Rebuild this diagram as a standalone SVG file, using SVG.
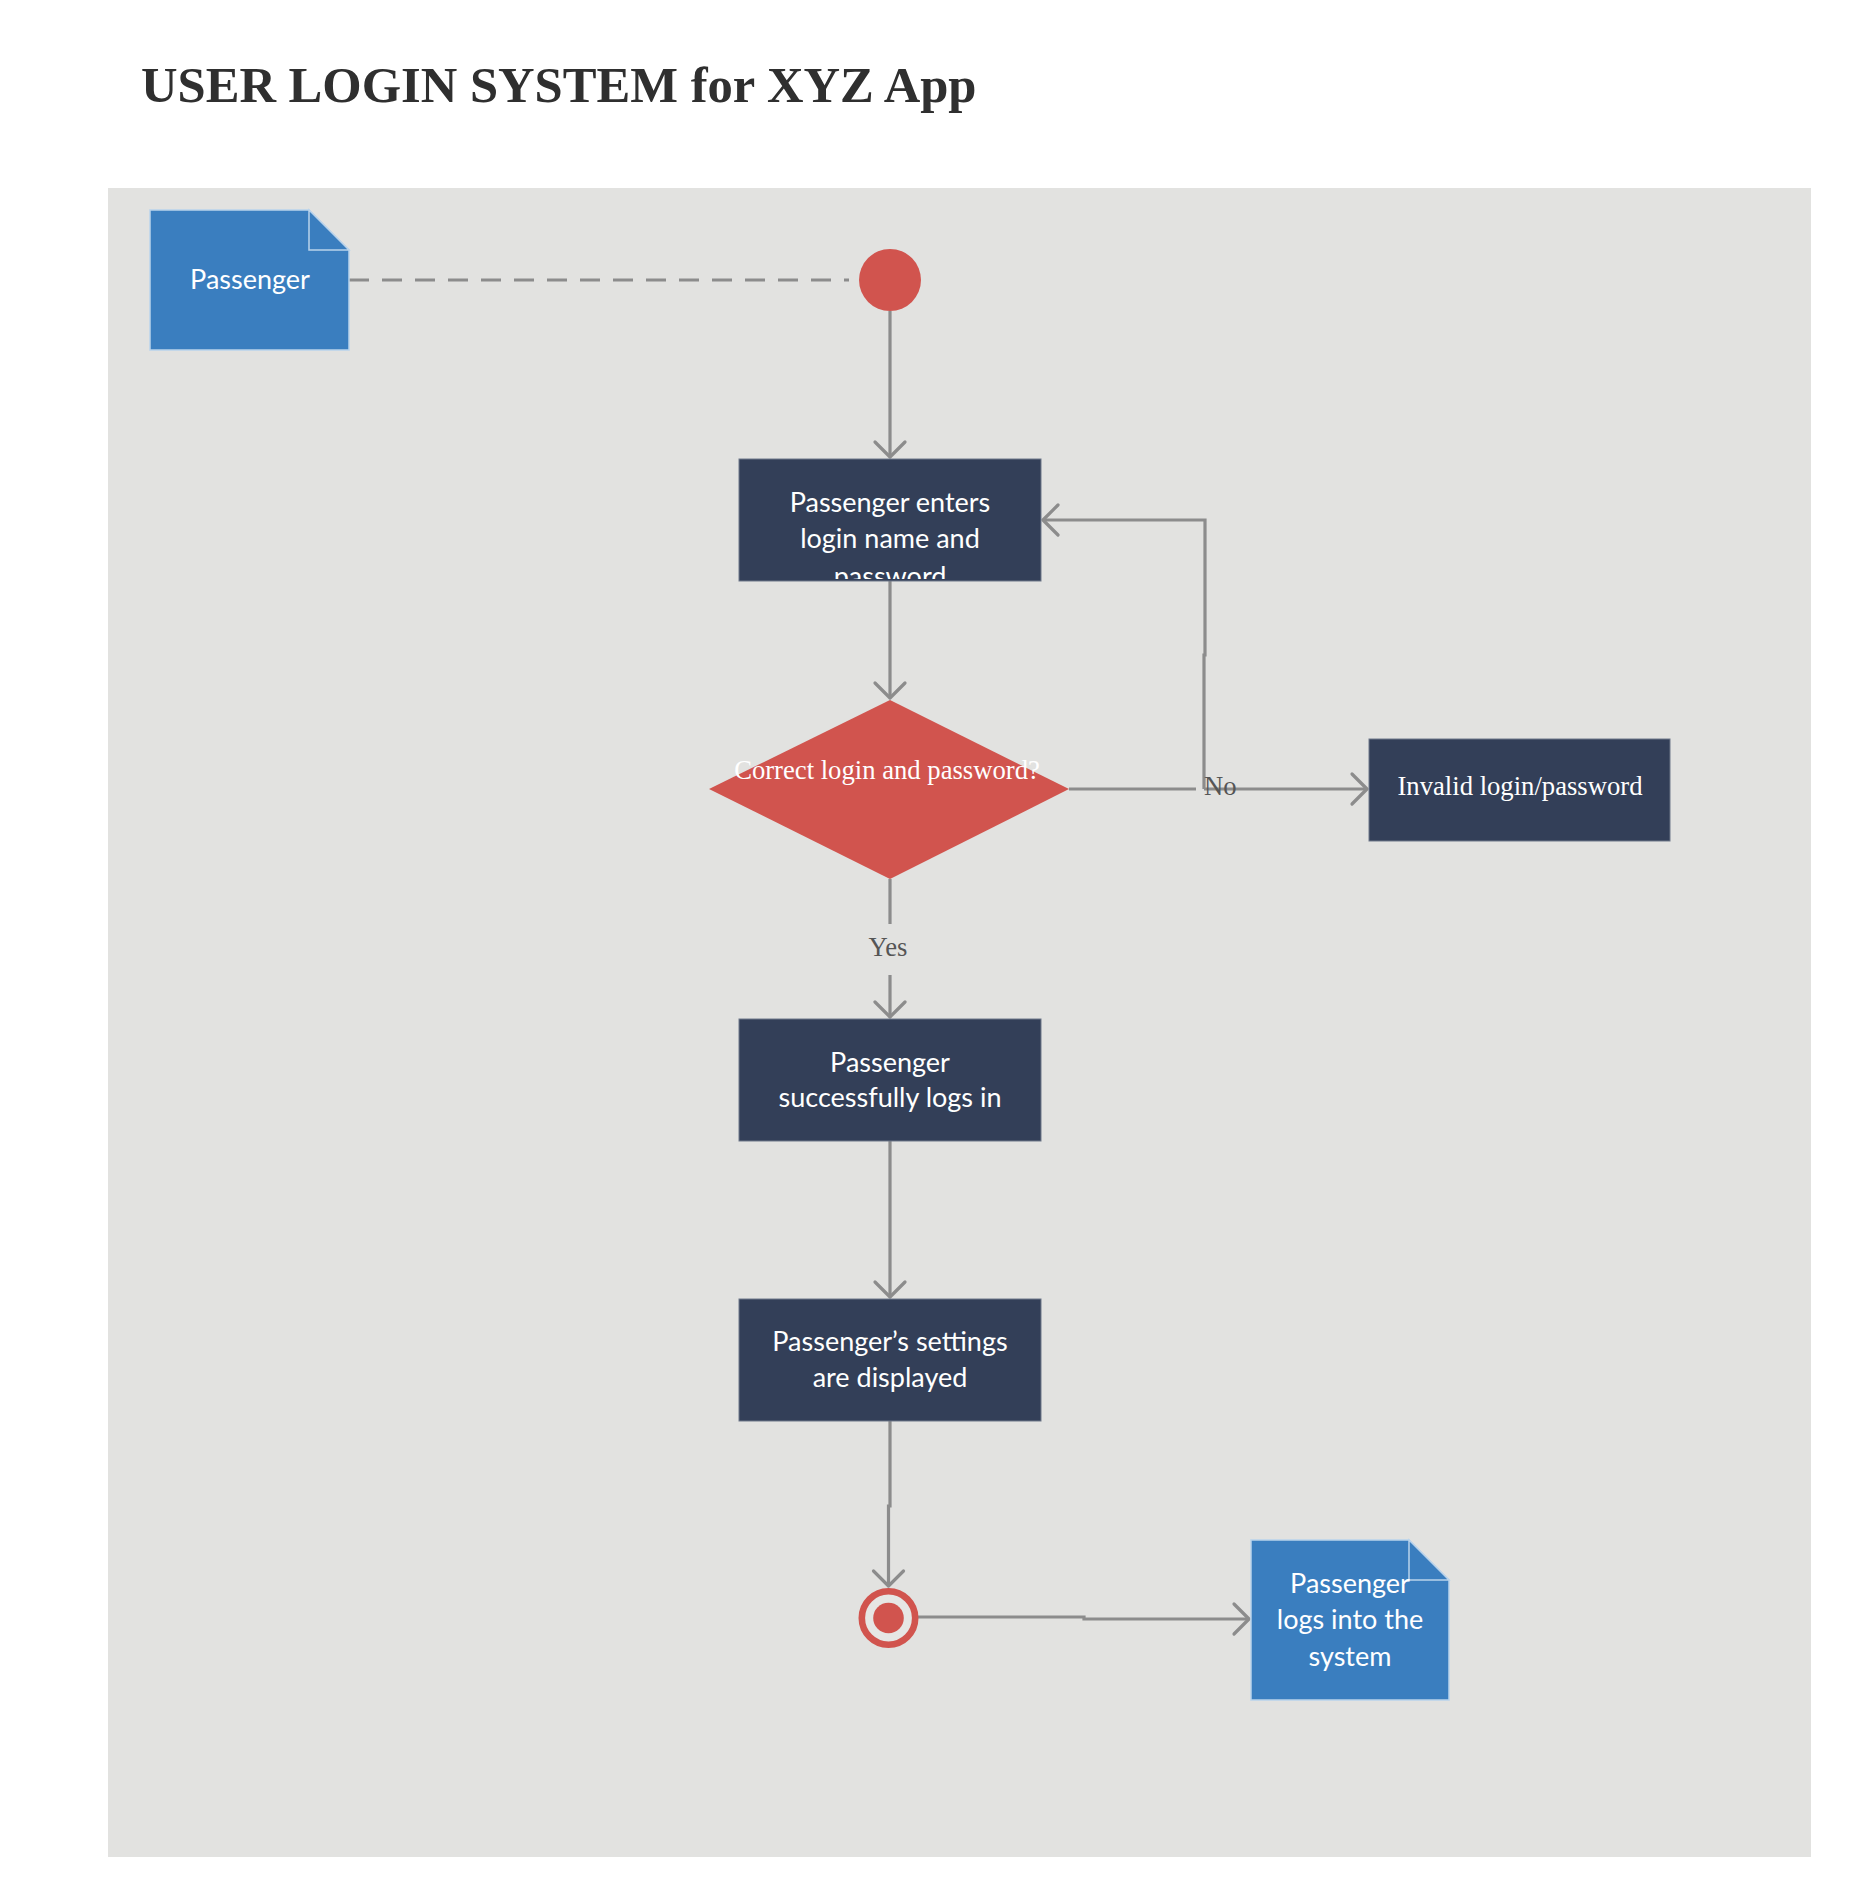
<svg xmlns="http://www.w3.org/2000/svg" width="1851" height="1896" viewBox="0 0 1851 1896">
  <style>
    .title { font-family: "Liberation Serif", "Times New Roman", serif; font-weight: bold; font-size: 50.6px; fill: #2f2f2f; }
    .proc { fill: #333f58; stroke: #6f7889; stroke-width: 1; }
    .note { fill: #3a7ebf; stroke: #b9d3ec; stroke-width: 1.5; }
    .fold { fill: #3a7ebf; stroke: #b9d3ec; stroke-width: 1.5; }
    .lato { font-family: Lato, "Open Sans", sans-serif; font-size: 27px; fill: #ffffff; text-anchor: middle; }
    .serifw { font-family: "Liberation Serif", "Times New Roman", serif; font-size: 26.67px; fill: #ffffff; text-anchor: middle; }
    .lbl { font-family: "Liberation Serif", "Times New Roman", serif; font-size: 26.67px; fill: #555555; }
    .conn { fill: none; stroke: #8c8c8c; stroke-width: 3.2; }
    .dash { stroke-dasharray: 20 13; }
  </style>
  <defs>
    <marker id="arrow" markerUnits="userSpaceOnUse" markerWidth="24" markerHeight="36" viewBox="0 0 24 36" refX="18" refY="18" orient="auto">
      <path d="M3,3 L18,18 L3,33" fill="none" stroke="#8c8c8c" stroke-width="3.2" stroke-linecap="round" stroke-linejoin="round"/>
    </marker>
    <clipPath id="clip1"><rect x="739" y="459" width="302" height="120"/></clipPath>
  </defs>

  <rect x="0" y="0" width="1851" height="1896" fill="#ffffff"/>
  <text class="title" x="141" y="102">USER LOGIN SYSTEM for XYZ App</text>
  <rect id="panel" x="108" y="188" width="1703" height="1669" fill="#e2e2e0"/>

  <g id="connectors">
    <path class="conn dash" d="M349,280 H849"/>
    <path class="conn" d="M890,311 V457" marker-end="url(#arrow)"/>
    <path class="conn" d="M890,581 V698" marker-end="url(#arrow)"/>
    <path class="conn" d="M1069,789 H1196"/>
    <path class="conn" d="M1204,789 H1367" marker-end="url(#arrow)"/>
    <path class="conn" d="M1204,789 V655 H1205 V520 H1043" marker-end="url(#arrow)"/>
    <path class="conn" d="M890,879 V924"/>
    <path class="conn" d="M890,975 V1017" marker-end="url(#arrow)"/>
    <path class="conn" d="M890,1141 V1297" marker-end="url(#arrow)"/>
    <path class="conn" d="M890,1421 V1506 H888.5 V1586" marker-end="url(#arrow)"/>
    <path class="conn" d="M918,1617 H1084 V1619 H1249" marker-end="url(#arrow)"/>
    <text class="lbl" x="1204" y="795">No</text>
    <text class="lbl" x="888" y="956" text-anchor="middle">Yes</text>
  </g>

  <g id="note-passenger">
    <path class="note" d="M150,210 H309 L349,250 V350 H150 Z"/>
    <path class="fold" d="M309,210 V250 H349 Z"/>
    <text class="lato" x="250" y="289">Passenger</text>
  </g>

  <g id="start">
    <circle cx="890" cy="280" r="31" fill="#d1544e"/>
  </g>

  <g id="enter-login">
    <rect class="proc" x="739" y="459" width="302" height="122"/>
    <g clip-path="url(#clip1)">
      <text class="lato" x="890" y="512">Passenger enters</text>
      <text class="lato" x="890" y="548">login name and</text>
      <text class="lato" x="890" y="586">password</text>
    </g>
  </g>

  <g id="decision">
    <polygon points="890,700 1069,789 890,879 709,789" fill="#d1544e"/>
    <text class="serifw" x="887" y="779">Correct login and password?</text>
  </g>

  <g id="invalid">
    <rect class="proc" x="1369" y="739" width="301" height="102"/>
    <text class="serifw" x="1520" y="795">Invalid login/password</text>
  </g>

  <g id="logs-in">
    <rect class="proc" x="739" y="1019" width="302" height="122"/>
    <text class="lato" x="890" y="1072">Passenger</text>
    <text class="lato" x="890" y="1107">successfully logs in</text>
  </g>

  <g id="settings">
    <rect class="proc" x="739" y="1299" width="302" height="122"/>
    <text class="lato" x="890" y="1351">Passenger’s settings</text>
    <text class="lato" x="890" y="1387">are displayed</text>
  </g>

  <g id="end">
    <circle cx="888.5" cy="1618" r="26.7" fill="#e6e6e4" stroke="#d1544e" stroke-width="6.6"/>
    <circle cx="888.5" cy="1618" r="15.3" fill="#d1544e"/>
  </g>

  <g id="note-result">
    <path class="note" d="M1251,1540 H1409 L1449,1580 V1700 H1251 Z"/>
    <path class="fold" d="M1409,1540 V1580 H1449 Z"/>
    <text class="lato" x="1350" y="1593">Passenger</text>
    <text class="lato" x="1350" y="1629">logs into the</text>
    <text class="lato" x="1350" y="1666">system</text>
  </g>
</svg>
